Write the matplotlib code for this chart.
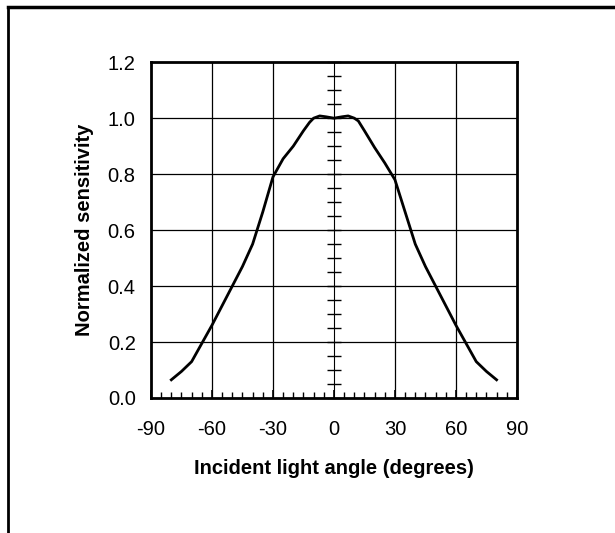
import matplotlib
matplotlib.use("Agg")
import matplotlib.pyplot as plt
from matplotlib.ticker import MultipleLocator, FormatStrFormatter, NullFormatter
from matplotlib.lines import Line2D

plt.rcParams['font.family'] = ['Liberation Sans', 'DejaVu Sans']
plt.rcParams['axes.unicode_minus'] = False

# data
angles = [-80, -75, -70, -65, -60, -55, -50, -45, -40, -35, -30, -25, -20, -15,
          -12, -10, -7, -4, 0, 4, 7, 10, 12, 15, 20, 25, 30, 35, 40, 45, 50, 55,
          60, 65, 70, 75, 80]
sensitivity = [0.065, 0.095, 0.13, 0.195, 0.26, 0.33, 0.40, 0.47, 0.55, 0.665,
               0.79, 0.855, 0.90, 0.955, 0.985, 1.0, 1.008, 1.005, 1.0, 1.005,
               1.008, 1.0, 0.99, 0.955, 0.895, 0.84, 0.78, 0.665, 0.55, 0.47,
               0.40, 0.33, 0.26, 0.195, 0.13, 0.095, 0.065]
xticks = [-90, -60, -30, 0, 30, 60, 90]
yticks = [0.0, 0.2, 0.4, 0.6, 0.8, 1.0, 1.2]

fig = plt.figure(figsize=(6.15, 5.33), dpi=100)
ax = fig.add_axes([0.2455, 0.2533, 0.595, 0.630])

# outer frame (left and top lines)
fig.add_artist(Line2D([0.0125, 0.0125], [0, 0.986], transform=fig.transFigure,
                      color='black', lw=2))
fig.add_artist(Line2D([0.0125, 1.0], [0.986, 0.986], transform=fig.transFigure,
                      color='black', lw=2.5))

ax.set_xlim(-90, 90)
ax.set_ylim(0, 1.2)
ax.set_xticks(xticks)
ax.set_yticks(yticks)
ax.yaxis.set_major_formatter(FormatStrFormatter('%.1f'))
ax.xaxis.set_minor_locator(MultipleLocator(5))

for x in [-60, -30, 30, 60]:
    ax.axvline(x, color='black', lw=0.9, zorder=1)
for y in [0.2, 0.4, 0.6, 0.8, 1.0]:
    ax.axhline(y, color='black', lw=0.9, zorder=1)

# center axis with small ticks every 0.05
sec = ax.secondary_yaxis(0.5)
sec.spines['left'].set_color('#555555')
sec.spines['left'].set_linewidth(1.2)
sec.yaxis.set_major_locator(MultipleLocator(0.05))
sec.yaxis.set_major_formatter(NullFormatter())
sec.tick_params(axis='y', which='major', direction='inout', length=10,
                width=1, color='black')

ax.plot(angles, sensitivity, color='black', lw=2, zorder=3)

for s in ax.spines.values():
    s.set_linewidth(2)
ax.tick_params(axis='y', which='major', labelsize=14.5, length=0, pad=11)
ax.tick_params(axis='x', which='major', labelsize=14.5, direction='in',
               length=6, width=1.2, pad=16)
ax.tick_params(axis='x', which='minor', direction='in', length=4, width=1)

ax.set_xlabel('Incident light angle (degrees)', fontsize=14.5,
              fontweight='bold', labelpad=14)
ax.set_ylabel('Normalized sensitivity', fontsize=14.5, fontweight='bold',
              labelpad=10)

fig.savefig('out.png', dpi=100)
